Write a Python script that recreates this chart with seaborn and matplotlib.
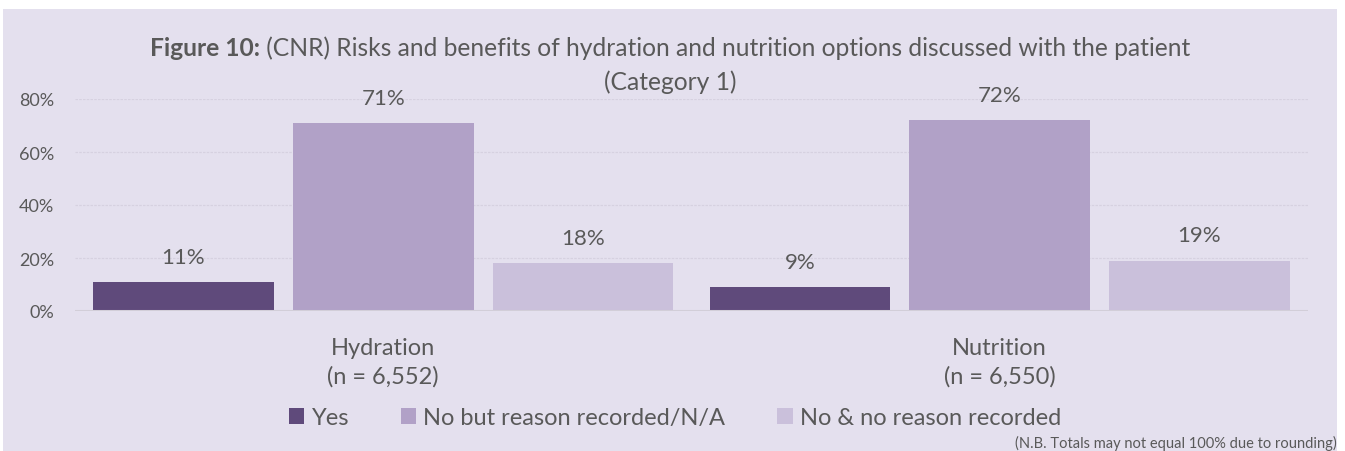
import matplotlib
matplotlib.use("Agg")
import matplotlib.pyplot as plt
import seaborn as sns
import pandas as pd
from matplotlib.patches import Rectangle

# Data
categories = ["Hydration\n(n = 6,552)", "Nutrition\n(n = 6,550)"]
responses = ["Yes", "No but reason recorded/N/A", "No & no reason recorded"]
yes_vals = [0.11, 0.09]
reason_vals = [0.71, 0.72]
no_reason_vals = [0.18, 0.19]
y_ticks = [0.0, 0.2, 0.4, 0.6, 0.8]

rows = []
for i, cat in enumerate(categories):
    for resp, vals in zip(responses, [yes_vals, reason_vals, no_reason_vals]):
        rows.append({"category": cat, "response": resp, "value": vals[i]})
df = pd.DataFrame(rows)

BG = "#E4E0EE"
TEXT = "#595959"
palette = ["#5F4A7B", "#B1A1C7", "#CAC0DB"]

sns.set_theme(style="white")
plt.rcParams["font.family"] = ["Lato", "DejaVu Sans"]

W, H = 1345, 452
fig = plt.figure(figsize=(W / 100, H / 100), dpi=100, facecolor="white")
fig.patches.append(Rectangle((3 / W, 0), 1334 / W, (H - 10) / H,
                             transform=fig.transFigure, facecolor=BG,
                             edgecolor="none", zorder=-10))

ax = fig.add_axes([75 / W, (H - 312) / H, (1308 - 75) / W, 212 / H])
ax.set_facecolor(BG)
ax.patch.set_alpha(0)

sns.barplot(data=df, x="category", y="value", hue="response",
            palette=palette, width=0.972, gap=0.096, ax=ax,
            saturation=1, legend=False, zorder=3, linewidth=0,
            edgecolor="none")

for cont in ax.containers:
    ax.bar_label(cont, labels=[f"{v:.0%}" for v in cont.datavalues],
                 padding=11, fontsize=16, color=TEXT, clip_on=False)

ax.set_xlim(-0.5, 1.5)
ax.set_ylim(0, 0.8)
ax.set_yticks(y_ticks)
ax.set_yticklabels([f"{t:.0%}" for t in y_ticks])
ax.tick_params(axis="y", length=0, pad=15, labelsize=13, labelcolor=TEXT)
ax.tick_params(axis="x", length=0, pad=19, labelsize=17, labelcolor=TEXT)
for lbl in ax.get_xticklabels():
    lbl.set_linespacing(1.4)
ax.set_xlabel("")
ax.set_ylabel("")
for sp in ax.spines.values():
    sp.set_visible(False)
for t in y_ticks[1:]:
    ax.axhline(t, color="#D6D1E0", lw=0.9, ls=(0, (2, 1)), zorder=1)
ax.axhline(0, color="#D2CED8", lw=2.2, zorder=4)

# Legend
handles = [Rectangle((0, 0), 1, 1, facecolor=c, edgecolor="none") for c in palette]
fig.legend(handles, responses, loc="center", ncol=3, frameon=False,
           bbox_to_anchor=(675 / W, (H - 419) / H), fontsize=17,
           handlelength=0.65, handleheight=0.65, handletextpad=0.3,
           columnspacing=2.2, labelcolor=TEXT)

# Title (bold prefix + regular remainder, centred as one line)
y1 = (H - 48) / H
t_bold = fig.text(0, y1, "Figure 10:", fontsize=17.7, fontweight="bold",
                  color=TEXT, va="center", ha="left")
t_rest = fig.text(0, y1, " (CNR) Risks and benefits of hydration and nutrition options discussed with the patient",
                  fontsize=17.7, color=TEXT, va="center", ha="left")
fig.canvas.draw()
r = fig.canvas.get_renderer()
wb = t_bold.get_window_extent(r).width
wr = t_rest.get_window_extent(r).width
x0 = 670 - (wb + wr) / 2
t_bold.set_x(x0 / W)
t_rest.set_x((x0 + wb) / W)
fig.text(670 / W, (H - 82) / H, "(Category 1)", fontsize=17.7, color=TEXT,
         ha="center", va="center")

fig.text(1337 / W, (H - 443) / H, "(N.B. Totals may not equal 100% due to rounding)",
         fontsize=10.5, color=TEXT, ha="right", va="center")

fig.savefig("out.png", dpi=100, facecolor="white")
